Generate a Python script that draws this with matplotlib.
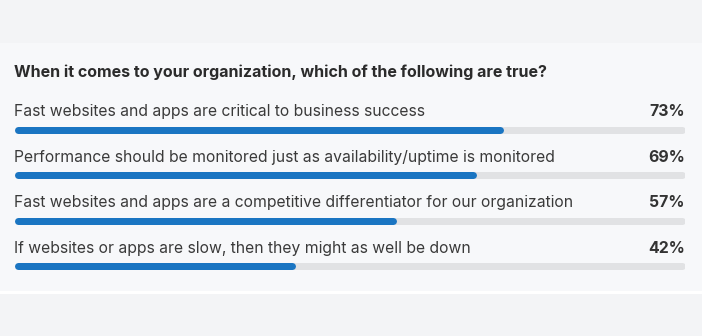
import matplotlib
matplotlib.use("Agg")
import matplotlib.pyplot as plt
from matplotlib.patches import Rectangle

# data
title = "When it comes to your organization, which of the following are true?"
statements = [
    "Fast websites and apps are critical to business success",
    "Performance should be monitored just as availability/uptime is monitored",
    "Fast websites and apps are a competitive differentiator for our organization",
    "If websites or apps are slow, then they might as well be down",
]
percent = [73, 69, 57, 42]

W, H = 702, 336
fig = plt.figure(figsize=(W / 100, H / 100), dpi=100)
fig.patch.set_facecolor("#f3f4f6")

# background panel
bg = fig.add_axes([0, 0, 1, 1])
bg.set_xlim(0, W)
bg.set_ylim(H, 0)
bg.axis("off")
bg.add_patch(Rectangle((0, 43), W, 248, facecolor="#f7f8fa", edgecolor="none"))
bg.add_patch(Rectangle((0, 291), W, 2.5, facecolor="#ffffff", edgecolor="none"))

# bar axes: x in percent, y in pixels
left, right = 14, 685
ax = fig.add_axes([left / W, 0, (right - left) / W, 1])
ax.set_xlim(0, 100)
ax.set_ylim(H, 0)
ax.axis("off")

plt.rcParams["font.family"] = ["Inter", "DejaVu Sans"]

cap = 3.5 / (right - left) * 100  # round cap radius in percent units
lw = 7 * 72 / 100

row0, step = 129.5, 45.6
ax.text(0, 77, title, fontsize=11.55, fontweight="bold", color="#2b2b2b",
        va="baseline", ha="left")
for i, (s, p) in enumerate(zip(statements, percent)):
    yb = row0 + i * step
    ax.plot([cap, 100 - cap], [yb, yb], color="#e1e2e4", lw=lw,
            solid_capstyle="round")
    ax.plot([cap, p - cap], [yb, yb], color="#1a75c2", lw=lw,
            solid_capstyle="round")
    ax.text(0, yb - 13.5, s, fontsize=11.3, color="#3a3a3a", va="baseline", ha="left")
    ax.text(100, yb - 13.5, f"{p}%", fontsize=11.4, fontweight="bold",
            color="#333333", va="baseline", ha="right")

fig.savefig("out.png", dpi=100, facecolor=fig.get_facecolor())
